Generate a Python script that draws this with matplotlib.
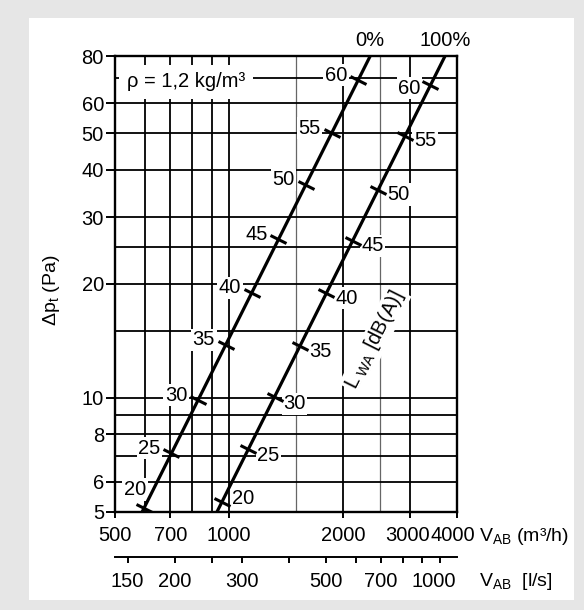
import matplotlib
matplotlib.use("Agg")
import matplotlib.pyplot as plt
import numpy as np
from matplotlib.markers import MarkerStyle
from matplotlib.patches import Rectangle
from matplotlib.ticker import FixedLocator, FixedFormatter, NullLocator
from matplotlib.transforms import Affine2D, ScaledTranslation

# --- values ---
flow_ticks = [500, 700, 1000, 2000, 3000, 4000]          # m3/h
flow_grid = [600, 700, 800, 900, 1000, 2000, 3000]
flow_grid_thin = [1500, 2500]
dp_ticks = [5, 6, 8, 10, 20, 30, 40, 50, 60, 80]          # Pa
dp_grid = [6, 7, 8, 9, 10, 15, 20, 25, 30, 40, 50, 60, 70]
ls_ticks = [150, 200, 250, 300, 400, 500, 600, 700, 800, 900, 1000]   # l/s
ls_labels = [150, 200, 300, 500, 700, 1000]

line_0_flow = [590, 2360]
line_0_dp = [5, 80]
line_100_flow = [930, 3720]
line_100_dp = [5, 80]

lwa_levels = [20, 25, 30, 35, 40, 45, 50, 55, 60]
lwa_dp_0 = [5.10, 7.13, 9.86, 13.8, 18.95, 26.2, 36.5, 50.0, 69.1]
lwa_dp_100 = [5.31, 7.31, 10.06, 13.7, 18.9, 26.0, 35.5, 49.2, 67.0]

FS = 14.5
plt.rcParams['font.family'] = ['Liberation Sans', 'DejaVu Sans']
plt.rcParams['mathtext.fontset'] = 'custom'
plt.rcParams['mathtext.rm'] = 'Liberation Sans'
plt.rcParams['mathtext.it'] = 'Liberation Sans:italic'
plt.rcParams['mathtext.bf'] = 'Liberation Sans:bold'

W, H = 584, 610
fig = plt.figure(figsize=(W / 100, H / 100), dpi=100)
fig.patch.set_facecolor('#e6e6e6')
fig.add_artist(Rectangle((29 / W, 1 - 600 / H), 545 / W, 582 / H,
                         transform=fig.transFigure, facecolor='white',
                         edgecolor='none', zorder=-5))

ax = fig.add_axes([115 / W, 98.3 / H, 342 / W, 455.7 / H])
ax.set_xscale('log')
ax.set_yscale('log')
ax.set_xlim(flow_ticks[0], flow_ticks[-1])
ax.set_ylim(dp_ticks[0], dp_ticks[-1])

for v in flow_grid:
    ax.axvline(v, color='black', lw=1.3, zorder=1)
for v in flow_grid_thin:
    ax.axvline(v, color='0.4', lw=0.9, zorder=1)
for v in dp_grid:
    ax.axhline(v, color='black', lw=1.3, zorder=1)

for s in ax.spines.values():
    s.set_linewidth(1.7)

ax.xaxis.set_major_locator(FixedLocator(flow_ticks))
ax.xaxis.set_major_formatter(FixedFormatter([str(v) for v in flow_ticks]))
ax.xaxis.set_minor_locator(NullLocator())
ax.yaxis.set_major_locator(FixedLocator(dp_ticks))
ax.yaxis.set_major_formatter(FixedFormatter([str(v) for v in dp_ticks]))
ax.yaxis.set_minor_locator(NullLocator())
ax.tick_params(axis='x', direction='out', length=4.5, width=1.4, pad=6, labelsize=FS)
ax.tick_params(axis='y', direction='out', length=6.5, width=1.4, pad=1.5, labelsize=FS)

# nudge the crowded last labels a bit to the left
lab = ax.get_xticklabels()[-1]
lab.set_transform(lab.get_transform() + ScaledTranslation(-4 / 100, 0, fig.dpi_scale_trans))
lab = ax.get_xticklabels()[-2]
lab.set_transform(lab.get_transform() + ScaledTranslation(-2 / 100, 0, fig.dpi_scale_trans))

# line angle in display space for perpendicular tick marks
p = ax.transData.transform([(line_0_flow[0], line_0_dp[0]), (line_0_flow[1], line_0_dp[1])])
angle = np.degrees(np.arctan2(p[1, 1] - p[0, 1], p[1, 0] - p[0, 0]))
tick_marker = MarkerStyle('_', transform=Affine2D().rotate_deg(angle - 90))

box = dict(boxstyle='square,pad=0.08', fc='white', ec='none')


def flow_at(dp, lf, ld):
    return np.exp(np.interp(np.log(dp), np.log(ld), np.log(lf)))


curves = [
    (line_0_flow, line_0_dp, lwa_dp_0, '0%',
     {20: (-9, 19)}, (-22, 5)),
    (line_100_flow, line_100_dp, lwa_dp_100, '100%',
     {60: (-21, -3), 20: (21, 3), 25: (20, -6), 30: (20, -7)}, (20, -5)),
]
for lf, ld, tdp, name, special, default in curves:
    ax.plot(lf, ld, color='black', lw=2.3, solid_capstyle='butt', zorder=5)
    tf = flow_at(np.array(tdp), lf, ld)
    ax.plot(tf, tdp, ls='none', marker=tick_marker, ms=13, mew=2.2,
            color='black', zorder=5)
    for lvl, f, d in zip(lwa_levels, tf, tdp):
        off = special.get(lvl, default)
        ax.annotate(str(lvl), (f, d), xytext=off, textcoords='offset pixels',
                    ha='center', va='center', fontsize=FS, bbox=box, zorder=3)
    ax.annotate(name, (lf[-1], ld[-1]), xytext=(0, 16), textcoords='offset pixels',
                ha='center', va='center', fontsize=FS, annotation_clip=False)

ax.text(0.035, 0.9436, 'ρ = 1,2 kg/m³', transform=ax.transAxes, ha='left',
        va='center', fontsize=FS, zorder=3,
        bbox=dict(boxstyle='square,pad=0.38', fc='white', ec='none'))

ax.text(2430, 14.2, r'L$_\mathrm{\ WA}$ [dB(A)]', rotation=angle,
        rotation_mode='anchor', ha='center', va='center', fontsize=FS,
        zorder=3, bbox=box)

# second flow scale in l/s
ax2 = fig.add_axes([115 / W, 52.7 / H, 342 / W, 0.0001])
ax2.set_xscale('log')
ax2.set_xlim(flow_ticks[0] / 3.6, flow_ticks[-1] / 3.6)
ax2.patch.set_visible(False)
for k in ['top', 'left', 'right']:
    ax2.spines[k].set_visible(False)
ax2.spines['bottom'].set_linewidth(1.4)
ax2.yaxis.set_visible(False)
ax2.xaxis.set_major_locator(FixedLocator(ls_ticks))
ax2.xaxis.set_major_formatter(FixedFormatter([str(v) if v in ls_labels else '' for v in ls_ticks]))
ax2.xaxis.set_minor_locator(NullLocator())
ax2.tick_params(axis='x', direction='out', length=4.5, width=1.4, pad=6, labelsize=FS)
lab = ax2.get_xticklabels()[-1]
lab.set_transform(lab.get_transform() + ScaledTranslation(-6 / 100, 0, fig.dpi_scale_trans))

fig.text(51 / W, 1 - 290 / H, r'Δp$_\mathrm{t}$ (Pa)', rotation=90,
         ha='center', va='center', fontsize=14)
fig.text(479 / W, 1 - 536.7 / H, r'V$_\mathrm{AB}$ (m³/h)', ha='left',
         va='center', fontsize=14)
fig.text(479 / W, 1 - 581.7 / H, r'V$_\mathrm{AB}$  [l/s]', ha='left',
         va='center', fontsize=14)

fig.savefig('out.png', dpi=100, facecolor=fig.get_facecolor())
